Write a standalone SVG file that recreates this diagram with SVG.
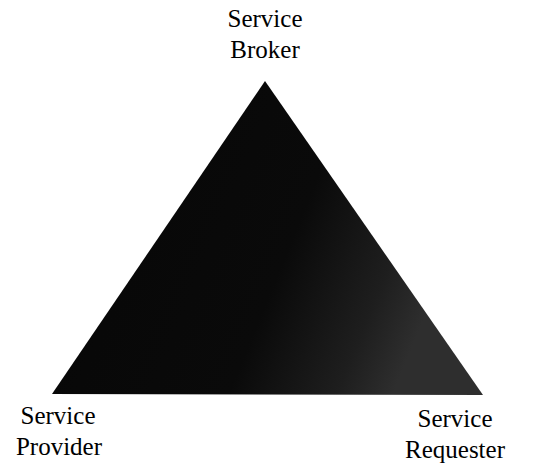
<svg xmlns="http://www.w3.org/2000/svg" width="536" height="471" viewBox="0 0 536 471">
<style>
.lbl{font-family:"Liberation Serif","Times New Roman",serif;font-size:25px;fill:#000;text-anchor:middle}
</style>
<defs>
<linearGradient id="shade" x1="0" y1="0" x2="1" y2="0.3">
<stop offset="0" stop-color="#060606"/>
<stop offset="0.65" stop-color="#0a0a0a"/>
<stop offset="0.88" stop-color="#1e1e1e"/>
<stop offset="1" stop-color="#2e2e2e"/>
</linearGradient>
</defs>
<rect width="536" height="471" fill="#fff"/>
<g id="triangle">
<polygon points="265,81 52,394 483,395" fill="url(#shade)"/>
</g>
<g id="broker">
<text class="lbl" x="265" y="27">Service</text>
<text class="lbl" x="265" y="58">Broker</text>
</g>
<g id="provider">
<text class="lbl" x="58" y="424">Service</text>
<text class="lbl" x="59" y="455">Provider</text>
</g>
<g id="requester">
<text class="lbl" x="455" y="427">Service</text>
<text class="lbl" x="455" y="458">Requester</text>
</g>
<g id="connectors"></g>
</svg>
